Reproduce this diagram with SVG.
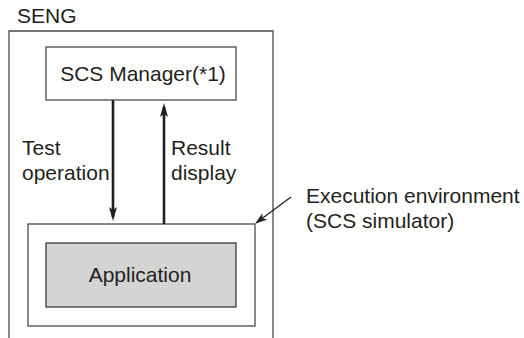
<svg xmlns="http://www.w3.org/2000/svg" width="524" height="338" viewBox="0 0 524 338">
<style>
text{font-family:"Liberation Sans",Arial,sans-serif;font-size:21px;fill:#231f20}
.box{fill:#fff;stroke:#4a4a4a;stroke-width:1.3}
.flow{stroke:#231f20;stroke-width:2.6;fill:none}
.lead{stroke:#231f20;stroke-width:1.2;fill:none}
</style>
<defs>
<marker id="ah" viewBox="0 0 14 8" refX="10" refY="4" markerWidth="14" markerHeight="8" markerUnits="userSpaceOnUse" orient="auto">
<path d="M0,0 L14,4 L0,8 L3,4 z" fill="#231f20"/>
</marker>
<marker id="ahs" viewBox="0 0 12 8" refX="11" refY="4" markerWidth="12" markerHeight="8" markerUnits="userSpaceOnUse" orient="auto">
<path d="M0,0 L12,4 L0,8 L3,4 z" fill="#231f20"/>
</marker>
</defs>
<g id="seng">
<path class="box" d="M9,338 V31 H273 V338"/>
<text x="17" y="23">SENG</text>
</g>
<g id="scs-manager">
<rect class="box" x="46" y="47" width="190" height="53"/>
<text x="143" y="81" text-anchor="middle">SCS Manager(*1)</text>
</g>
<g id="exec-env">
<rect class="box" x="28" y="224" width="227" height="102"/>
<text x="306" y="203">Execution environment</text>
<text x="306" y="228">(SCS simulator)</text>
</g>
<g id="application">
<rect x="46" y="243" width="190" height="64" fill="#d4d4d4" stroke="#3a3a3a" stroke-width="1.3"/>
<text x="140" y="282" text-anchor="middle">Application</text>
</g>
<g id="connectors">
<line class="flow" x1="113" y1="100" x2="113" y2="217" marker-end="url(#ah)"/>
<line class="flow" x1="164" y1="224" x2="164" y2="107" marker-end="url(#ah)"/>
<line class="lead" x1="291" y1="197" x2="256" y2="223" marker-end="url(#ahs)"/>
<text x="22" y="155">Test</text>
<text x="22" y="180">operation</text>
<text x="171" y="155">Result</text>
<text x="171" y="180">display</text>
</g>
</svg>
